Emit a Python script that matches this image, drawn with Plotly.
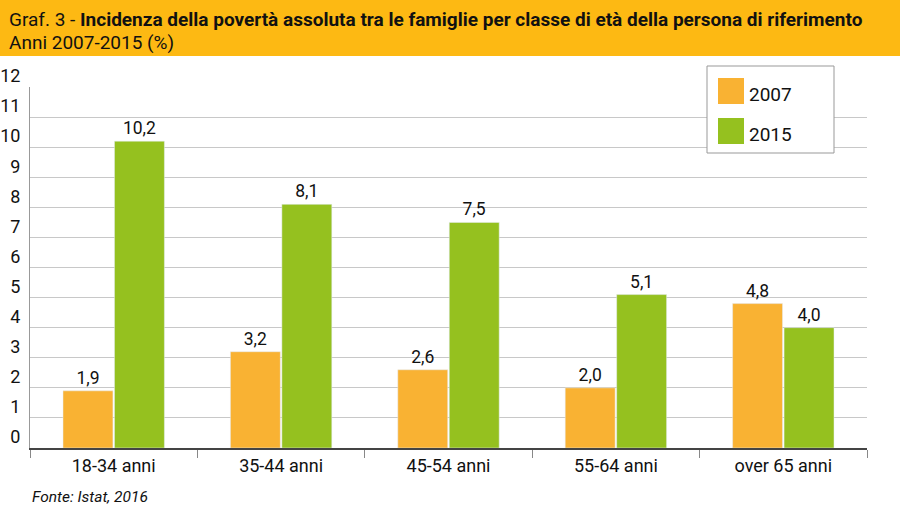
import plotly.graph_objects as go

categories = ["18-34 anni", "35-44 anni", "45-54 anni", "55-64 anni", "over 65 anni"]
series_names = ["2007", "2015"]
values_2007 = [1.9, 3.2, 2.6, 2.0, 4.8]
values_2015 = [10.2, 8.1, 7.5, 5.1, 4.0]
y_ticks = list(range(0, 13))

ORANGE = "#F9B233"
GREEN = "#95C11F"
BAND = "#FDB913"
FONT = "Roboto"

W, H = 900, 511
ML, MR, MT, MB = 30, 33, 87, 63
PW = W - ML - MR
PH = H - MT - MB


def px_x(p):
    return (p - ML) / PW


def px_y(p):
    return (H - MB - p) / PH


fig = go.Figure()
for name, vals, col in [(series_names[0], values_2007, ORANGE), (series_names[1], values_2015, GREEN)]:
    fig.add_trace(go.Bar(
        name=name, x=categories, y=vals, marker_color=col, showlegend=False,
        texttemplate="%{y:.1f}", textposition="outside", cliponaxis=False,
        textfont=dict(family=FONT, size=17.5, color="#111")))

fig.update_layout(
    width=W, height=H,
    margin=dict(l=ML, r=MR, t=MT, b=MB, pad=0, autoexpand=False),
    paper_bgcolor="white", plot_bgcolor="white",
    separators=",.",
    barmode="group", bargap=0.385, bargroupgap=0.03,
    font=dict(family=FONT, color="#111"),
    xaxis=dict(
        type="category", showgrid=False, showline=True, linecolor="#444", linewidth=2,
        ticks="outside", tickson="boundaries", ticklen=8, tickcolor="#888", tickwidth=1,
        tickfont=dict(family=FONT, size=18, color="#111"), automargin=False,
    ),
    yaxis=dict(
        range=[0, 12], tickvals=y_ticks, ticktext=[str(v) for v in y_ticks],
        showgrid=True, gridcolor="#c8c8c8", gridwidth=1,
        showline=True, linecolor="#999", linewidth=1, zeroline=False,
        ticks="", ticklabelshift=-11, ticklabelstandoff=5, automargin=False,
        tickfont=dict(family=FONT, size=18, color="#111"),
    ),
)

# title band
fig.add_shape(type="rect", xref="paper", yref="paper",
              x0=px_x(0), x1=px_x(W), y0=px_y(56), y1=px_y(0),
              fillcolor=BAND, line=dict(width=0), layer="below")

fig.add_annotation(
    xref="paper", yref="paper", x=px_x(7), y=px_y(19), xanchor="left", yanchor="middle",
    text="Graf. 3 - <b>Incidenza della povertà assoluta tra le famiglie per classe di età della persona di riferimento</b>",
    showarrow=False, font=dict(family=FONT, size=19, color="#111"))
fig.add_annotation(
    xref="paper", yref="paper", x=px_x(7), y=px_y(42), xanchor="left", yanchor="middle",
    text="Anni 2007-2015 (%)",
    showarrow=False, font=dict(family=FONT, size=19, color="#111"))
fig.add_annotation(
    xref="paper", yref="paper", x=px_x(30), y=px_y(497), xanchor="left", yanchor="middle",
    text="<i>Fonte: Istat, 2016</i>",
    showarrow=False, font=dict(family=FONT, size=15.5, color="#111"))

# legend box
fig.add_shape(type="rect", xref="paper", yref="paper",
              x0=px_x(707), x1=px_x(834), y0=px_y(153), y1=px_y(66),
              fillcolor="white", line=dict(color="#999", width=1), layer="above")
for i, (name, col) in enumerate([(series_names[0], ORANGE), (series_names[1], GREEN)]):
    top = 78 + i * 40
    fig.add_shape(type="rect", xref="paper", yref="paper",
                  x0=px_x(718), x1=px_x(744), y0=px_y(top + 26), y1=px_y(top),
                  fillcolor=col, line=dict(width=0), layer="above")
    fig.add_annotation(xref="paper", yref="paper", x=px_x(747), y=px_y(top + 16),
                       xanchor="left", yanchor="middle", text=name, showarrow=False,
                       font=dict(family=FONT, size=19, color="#111"))

fig.write_html("out.html", config={"displayModeBar": False},
               post_script="document.body.style.margin='0px';")
